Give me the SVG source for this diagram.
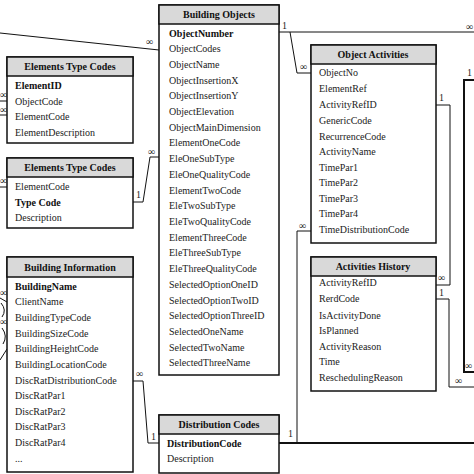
<svg xmlns="http://www.w3.org/2000/svg" width="474" height="474" viewBox="0 0 474 474">
<style>
.box{fill:#fff;stroke:#111;stroke-width:1.5}
.hdr{fill:#d9d9d9;stroke:#111;stroke-width:1.5}
.t{font-family:"Liberation Serif","Times New Roman",serif;font-size:10px;fill:#222}
.b{font-weight:bold;fill:#111}
.h{font-family:"Liberation Serif","Times New Roman",serif;font-size:10px;font-weight:bold;fill:#111;text-anchor:middle}
.c{fill:none;stroke:#111;stroke-width:1}
.ct{stroke-width:2}
.l{font-family:"Liberation Serif","Times New Roman",serif;font-size:10px;fill:#222}
</style>
<rect width="474" height="474" fill="#fff"/>
<g id="connectors">
<path class="c" d="M0,33 L159,50"/>
<path class="c" d="M279,32 L474,32"/>
<path class="c" d="M290,32 L297,73 L311,73"/>
<path class="c" d="M133,202 L143,202 L150,157 L159,157"/>
<path class="c" d="M436,105 L450,105 L450,285 L436,285"/>
<path class="c" d="M436,299 L449,299 L449,387 L474,387"/>
<path class="c" d="M133,381 L143,381 L148,443 L159,443"/>
<path class="c" d="M311,231 L297,231 L297,443"/>
<path class="c ct" d="M279,443 L474,443"/>
<path class="c ct" d="M474,80 L464,80 L464,372 L474,372"/>
<path class="c" d="M0,101 L7,101 M0,115 L7,115"/>
<path class="c" d="M0,187 L7,187"/>
<path class="c" d="M0,298 L7,302 M1,303 Q7,310 2,317 M2,328 Q8,336 3,344 M7,349 L0,360"/>
<text class="l" x="146" y="45">∞</text>
<text class="l" x="282" y="29">1</text>
<text class="l" x="300" y="70">∞</text>
<text class="l" x="466" y="30">∞</text>
<text class="l" x="148" y="155">∞</text>
<text class="l" x="136" y="198">1</text>
<text class="l" x="439" y="101">1</text>
<text class="l" x="467" y="76">1</text>
<text class="l" x="438" y="281">∞</text>
<text class="l" x="439" y="296">1</text>
<text class="l" x="455" y="384">∞</text>
<text class="l" x="465" y="369">∞</text>
<text class="l" x="136" y="377">∞</text>
<text class="l" x="151" y="440">1</text>
<text class="l" x="299" y="229">∞</text>
<text class="l" x="288" y="437">1</text>
<text class="l" x="0" y="98">∞</text>
<text class="l" x="0" y="113">∞</text>
<text class="l" x="0" y="184">∞</text>
<text class="l" x="0" y="296">∞</text>
<text class="l" x="0" y="325">∞</text>
</g>
<g id="building-objects">
<rect class="box" x="159" y="5" width="120" height="370"/>
<rect class="hdr" x="159" y="5" width="120" height="19"/>
<text class="h" x="219" y="18">Building Objects</text>
<text class="t b" x="169" y="37">ObjectNumber</text>
<text class="t" x="169" y="52">ObjectCodes</text>
<text class="t" x="169" y="68">ObjectName</text>
<text class="t" x="169" y="84">ObjectInsertionX</text>
<text class="t" x="169" y="99">ObjectInsertionY</text>
<text class="t" x="169" y="115">ObjectElevation</text>
<text class="t" x="169" y="131">ObjectMainDimension</text>
<text class="t" x="169" y="146">ElementOneCode</text>
<text class="t" x="169" y="162">EleOneSubType</text>
<text class="t" x="169" y="178">EleOneQualityCode</text>
<text class="t" x="169" y="194">ElementTwoCode</text>
<text class="t" x="169" y="209">EleTwoSubType</text>
<text class="t" x="169" y="225">EleTwoQualityCode</text>
<text class="t" x="169" y="241">ElementThreeCode</text>
<text class="t" x="169" y="256">EleThreeSubType</text>
<text class="t" x="169" y="272">EleThreeQualityCode</text>
<text class="t" x="169" y="288">SelectedOptionOneID</text>
<text class="t" x="169" y="304">SelectedOptionTwoID</text>
<text class="t" x="169" y="319">SelectedOptionThreeID</text>
<text class="t" x="169" y="335">SelectedOneName</text>
<text class="t" x="169" y="351">SelectedTwoName</text>
<text class="t" x="169" y="366">SelectedThreeName</text>
</g>
<g id="elements-type-codes-1">
<rect class="box" x="7" y="57" width="126" height="86"/>
<rect class="hdr" x="7" y="57" width="126" height="19"/>
<text class="h" x="70" y="70">Elements Type Codes</text>
<text class="t b" x="15" y="89">ElementID</text>
<text class="t" x="15" y="105">ObjectCode</text>
<text class="t" x="15" y="120">ElementCode</text>
<text class="t" x="15" y="136">ElementDescription</text>
</g>
<g id="elements-type-codes-2">
<rect class="box" x="7" y="158" width="126" height="70"/>
<rect class="hdr" x="7" y="158" width="126" height="19"/>
<text class="h" x="70" y="171">Elements Type Codes</text>
<text class="t" x="15" y="190">ElementCode</text>
<text class="t b" x="15" y="206">Type Code</text>
<text class="t" x="15" y="221">Description</text>
</g>
<g id="building-information">
<rect class="box" x="7" y="257" width="126" height="215"/>
<rect class="hdr" x="7" y="257" width="126" height="20"/>
<text class="h" x="70" y="271">Building Information</text>
<text class="t b" x="15" y="290">BuildingName</text>
<text class="t" x="15" y="305">ClientName</text>
<text class="t" x="15" y="321">BuildingTypeCode</text>
<text class="t" x="15" y="337">BuildingSizeCode</text>
<text class="t" x="15" y="352">BuildingHeightCode</text>
<text class="t" x="15" y="368">BuildingLocationCode</text>
<text class="t" x="15" y="384">DiscRatDistributionCode</text>
<text class="t" x="15" y="399">DiscRatPar1</text>
<text class="t" x="15" y="415">DiscRatPar2</text>
<text class="t" x="15" y="430">DiscRatPar3</text>
<text class="t" x="15" y="446">DiscRatPar4</text>
<text class="t" x="15" y="462">...</text>
</g>
<g id="object-activities">
<rect class="box" x="311" y="45" width="125" height="198"/>
<rect class="hdr" x="311" y="45" width="125" height="19"/>
<text class="h" x="373" y="58">Object Activities</text>
<text class="t" x="319" y="76">ObjectNo</text>
<text class="t" x="319" y="92">ElementRef</text>
<text class="t" x="319" y="108">ActivityRefID</text>
<text class="t" x="319" y="124">GenericCode</text>
<text class="t" x="319" y="140">RecurrenceCode</text>
<text class="t" x="319" y="155">ActivityName</text>
<text class="t" x="319" y="171">TimePar1</text>
<text class="t" x="319" y="186">TimePar2</text>
<text class="t" x="319" y="202">TimePar3</text>
<text class="t" x="319" y="217">TimePar4</text>
<text class="t" x="319" y="233">TimeDistributionCode</text>
</g>
<g id="activities-history">
<rect class="box" x="311" y="257" width="125" height="134"/>
<rect class="hdr" x="311" y="257" width="125" height="19"/>
<text class="h" x="373" y="270">Activities History</text>
<text class="t" x="319" y="286">ActivityRefID</text>
<text class="t" x="319" y="302">RerdCode</text>
<text class="t" x="319" y="319">IsActivityDone</text>
<text class="t" x="319" y="334">IsPlanned</text>
<text class="t" x="319" y="350">ActivityReason</text>
<text class="t" x="319" y="365">Time</text>
<text class="t" x="319" y="381">ReschedulingReason</text>
</g>
<g id="distribution-codes">
<rect class="box" x="159" y="415" width="120" height="58"/>
<rect class="hdr" x="159" y="415" width="120" height="19"/>
<text class="h" x="219" y="428">Distribution Codes</text>
<text class="t b" x="167" y="447">DistributionCode</text>
<text class="t" x="167" y="462">Description</text>
</g>
</svg>
